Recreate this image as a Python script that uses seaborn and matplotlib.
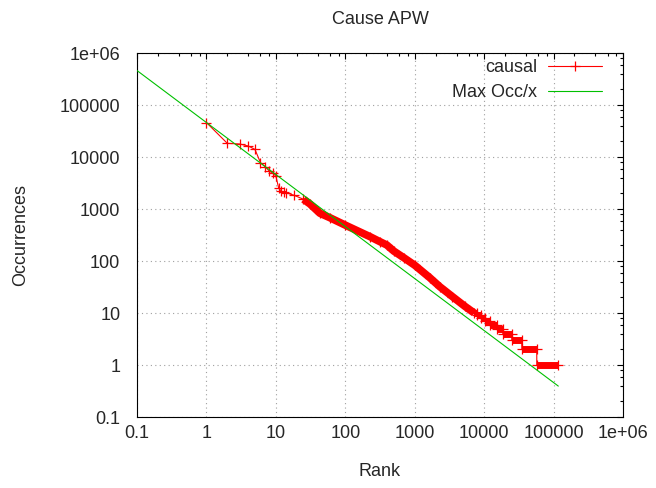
import pandas as pd
import seaborn as sns
import matplotlib.pyplot as plt
from matplotlib.ticker import LogLocator, NullFormatter

# top ranks
head_rank = [1, 2, 3, 4, 5, 6, 7, 8, 9, 10, 11, 12, 13, 14]
head_occ = [46000, 18300, 17800, 16300, 14000, 7800, 6500, 5400, 4900, 4300, 2500, 2200, 2100, 2050]

# dense middle part (markers overlap into a thick band)
band_rank = [18, 25, 31, 43, 60, 100, 228, 316, 396, 500, 700, 1000, 1640, 2300, 3500, 5300, 7200]
band_occ = [1850, 1540, 1250, 830, 680, 490, 293, 235, 203, 155, 115, 83, 48, 32, 20.6, 13.4, 10]

# tail plateaus: occurrence value, first rank, last rank
step_occ = [10, 9, 8, 7, 6, 5, 4, 3, 2, 1]
step_first = [7200, 8000, 8950, 10200, 12200, 15100, 18600, 25000, 34900, 57300]
step_last = [7990, 8940, 10190, 12190, 15090, 18590, 24990, 34890, 57290, 117000]

# Max Occ/x reference line, end points
ref_rank = [0.1, 117000]
ref_occ = [460000, 0.393]

tick_vals = [0.1, 1, 10, 100, 1000, 10000, 100000, 1e6]
tick_labels = ['0.1', '1', '10', '100', '1000', '10000', '100000', '1e+06']

sns.set_style('white')
plt.rcParams['font.family'] = ['Liberation Sans', 'DejaVu Sans']

# whole causal path: head, band, then both ends of every plateau
path_rank = head_rank + band_rank[:-1]
path_occ = head_occ + band_occ[:-1]
for v, a, b in zip(step_occ, step_first, step_last):
    path_rank += [a, b]
    path_occ += [v, v]
causal = pd.DataFrame({'rank': path_rank, 'occ': path_occ})
ref = pd.DataFrame({'rank': ref_rank, 'occ': ref_occ})
band = pd.DataFrame({'rank': band_rank, 'occ': band_occ})

fig = plt.figure(figsize=(6.56, 4.88), dpi=100)
ax = fig.add_axes([137/656, 1-417/488, 486/656, 364/488])
ax.set_xscale('log')
ax.set_yscale('log')

red = '#ff0000'
green = '#00c000'

# the overlapping markers of the dense part, drawn as a wide stroke
sns.lineplot(data=band.iloc[1:], x='rank', y='occ', sort=False, estimator=None, color=red,
             lw=5.5, solid_capstyle='butt', legend=False, ax=ax, zorder=2)
ax.hlines(step_occ, step_first, step_last, color=red, lw=5, zorder=2)
sns.lineplot(data=causal, x='rank', y='occ', sort=False, estimator=None, color=red,
             lw=0.8, marker='+', markersize=7, markeredgewidth=0.9,
             markeredgecolor=red, label='causal', ax=ax, zorder=3)
sns.lineplot(data=ref, x='rank', y='occ', sort=False, estimator=None, color=green,
             lw=0.8, label='Max Occ/x', ax=ax, zorder=4)

ax.set_xlim(0.1, 1e6)
ax.set_ylim(0.1, 1e6)
ax.set_xticks(tick_vals)
ax.set_xticklabels(tick_labels)
ax.set_yticks(tick_vals)
ax.set_yticklabels(tick_labels)
for axis in (ax.xaxis, ax.yaxis):
    axis.set_minor_locator(LogLocator(base=10, subs=[2, 4, 6, 8], numticks=20))
    axis.set_minor_formatter(NullFormatter())
ax.tick_params(which='both', direction='in', top=True, right=True, color='black', width=0.8)
ax.tick_params(which='major', length=4.5, labelsize=13)
ax.tick_params(which='minor', length=2.5)
ax.tick_params(axis='y', which='major', pad=12)
ax.tick_params(axis='x', which='major', pad=6)
ax.grid(True, which='major', color='#a0a0a0', ls=(0, (1, 3)), lw=0.8)
for s in ax.spines.values():
    s.set_color('black')
    s.set_linewidth(0.8)

ax.set_title('Cause APW', fontsize=13, pad=21)
ax.set_xlabel('Rank', fontsize=13)
ax.set_ylabel('Occurrences', fontsize=13)
ax.xaxis.set_label_coords(0.5, -(463-417)/364)
ax.yaxis.set_label_coords(-(137-29)/486, 0.5)

ax.legend(loc='upper right', bbox_to_anchor=((602-137)/486, (417-59)/364),
          frameon=False, markerfirst=False, fontsize=13, borderpad=0,
          handlelength=3.0, handletextpad=0.6, labelspacing=0.45, borderaxespad=0)

fig.savefig('out.png', dpi=100)
